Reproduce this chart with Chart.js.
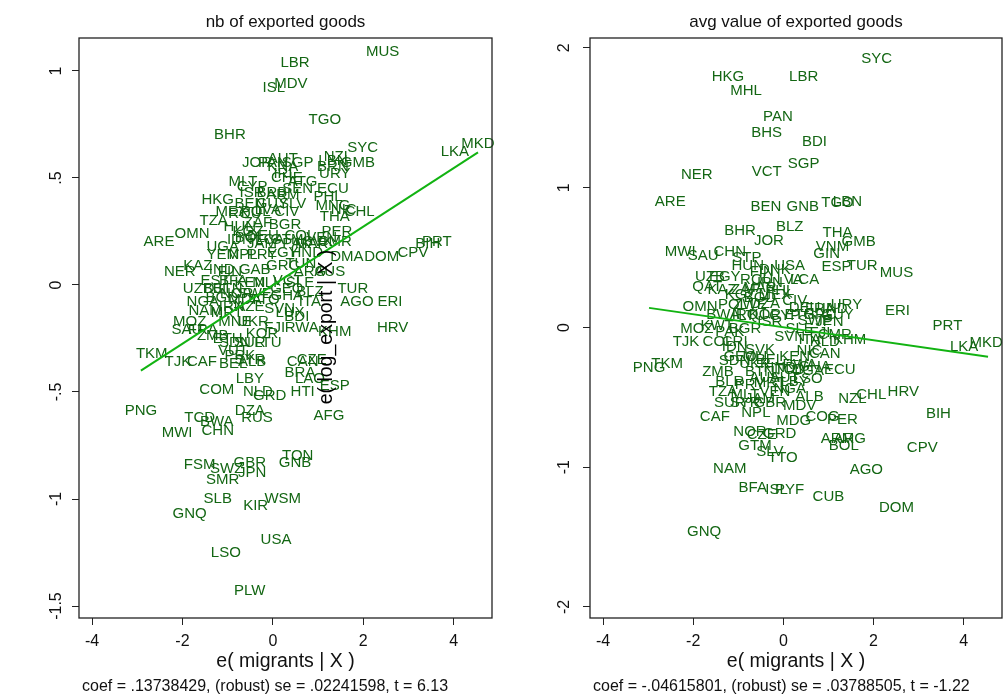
<!DOCTYPE html>
<html lang="en">
<head>
<meta charset="UTF-8">
<title>Added-variable plots: migrants</title>
<style>
  * { margin: 0; padding: 0; }
  body { background: #fff; width: 1004px; height: 697px; position: relative; overflow: hidden; }
  canvas { position: absolute; top: 0; }
  #leftChart { left: 0; }
  #rightChart { left: 502px; }
</style>
<script src="https://cdn.jsdelivr.net/npm/chart.js"></script>
</head>
<body>
<canvas id="leftChart" width="502" height="697"></canvas>
<canvas id="rightChart" width="502" height="697"></canvas>
<script>
// x axis is the same for both panels
const xTicks = [-4, -2, 0, 2, 4];
const xRange = [-4.29, 4.85];

// left panel: nb of exported goods  [country, e(migrants|X), e(y|X)]
const leftPoints = [
  ['MUS',2.43,1.09],['LBR',0.49,1.04],['MDV',0.40,0.94],['ISL',0.02,0.92],['TGO',1.15,0.77],
  ['BHR',-0.95,0.70],['SYC',1.99,0.64],['MKD',4.54,0.66],['LKA',4.03,0.62],['JOR',-0.35,0.57],
  ['PAN',0.00,0.57],['AUT',0.22,0.59],['SGP',0.55,0.57],['LBN',1.33,0.58],['NZL',1.44,0.60],
  ['GMB',1.88,0.57],['BRN',1.33,0.55],['URY',1.37,0.52],['KNA',0.22,0.55],['IRL',0.27,0.52],
  ['CHE',0.31,0.50],['MLT',-0.66,0.48],['CYP',-0.46,0.46],['ATG',0.66,0.48],['SEN',0.55,0.45],
  ['ECU',1.33,0.45],['ISR',-0.46,0.43],['BRB',-0.02,0.43],['ARM',0.22,0.42],['PHL',1.22,0.41],
  ['HKG',-1.22,0.40],['BEN',-0.51,0.38],['GUY',-0.02,0.38],['SLV',0.44,0.38],['MNG',1.33,0.37],
  ['NIC',1.57,0.35],['CHL',1.92,0.34],['THA',1.37,0.32],['MEX',-0.91,0.34],['ROU',-0.62,0.33],
  ['POL',-0.38,0.34],['LVA',-0.11,0.35],['CIV',0.31,0.34],['TZA',-1.31,0.30],['ZAF',-0.33,0.29],
  ['BGR',0.27,0.28],['KGZ',-0.55,0.25],['BOL',-0.51,0.22],['LCA',-0.07,0.21],['GTM',0.31,0.21],
  ['COL',0.60,0.23],['CMR',1.37,0.20],['SVK',1.00,0.20],['PAK',0.53,0.19],['PER',1.42,0.25],
  ['OMN',-1.79,0.24],['ARE',-2.52,0.20],['DMA',1.64,0.13],['DOM',2.41,0.13],['CPV',3.10,0.15],
  ['BIH',3.43,0.19],['PRT',3.63,0.20],['UGA',-1.11,0.18],['YEM',-1.11,0.14],['NPL',-0.66,0.14],
  ['PRY',-0.24,0.14],['EGY',0.22,0.15],['HND',0.75,0.15],['NER',-2.06,0.06],['KAZ',-1.66,0.09],
  ['IND',-1.13,0.07],['GAB',-0.40,0.07],['GRC',0.22,0.09],['TUN',0.62,0.10],['AUS',1.26,0.06],
  ['ARG',0.82,0.06],['BFA',-0.88,0.02],['KEN',-0.51,0.01],['MLI',-0.18,0.01],['VCT',0.33,0.02],
  ['SLE',0.60,0.01],['UZB',-1.66,-0.02],['DJI',-1.28,-0.02],['BTN',-1.00,-0.02],['NOR',-0.80,-0.04],
  ['SWE',-0.40,-0.04],['GEO',0.31,-0.02],['GHA',0.31,-0.05],['BLZ',0.82,-0.03],['TUR',1.77,-0.02],
  ['AGO',1.86,-0.08],['ERI',2.59,-0.08],['HRV',2.65,-0.20],['NGA',-1.55,-0.08],['NAM',-1.50,-0.12],
  ['IRN',-0.91,-0.10],['AZE',-0.51,-0.10],['SVN',0.15,-0.11],['ITA',0.82,-0.08],['LUX',0.38,-0.13],
  ['MOZ',-1.84,-0.17],['MNE',-0.84,-0.17],['UKR',-0.44,-0.17],['FJI',0.04,-0.20],['BDI',0.53,-0.15],
  ['RWA',0.64,-0.20],['KHM',1.37,-0.22],['SAU',-1.90,-0.21],['FRA',-1.55,-0.21],['ZMB',-1.33,-0.24],
  ['ETH',-1.00,-0.25],['KOR',-0.24,-0.23],['SDN',-0.84,-0.27],['SUR',-0.51,-0.27],['LTU',-0.11,-0.27],
  ['TKM',-2.68,-0.32],['VUT',-0.88,-0.31],['SYR',-0.51,-0.35],['TJK',-2.10,-0.36],['CAF',-1.57,-0.36],
  ['BEL',-0.88,-0.37],['ALB',-0.46,-0.36],['CAN',0.66,-0.36],['CZE',0.86,-0.35],['BRA',0.60,-0.41],
  ['LBY',-0.51,-0.44],['LAO',0.82,-0.44],['ESP',1.37,-0.47],['COM',-1.24,-0.49],['NLD',-0.33,-0.50],
  ['HTI',0.66,-0.50],['GRD',-0.07,-0.52],['PNG',-2.92,-0.59],['TCD',-1.62,-0.62],['BWA',-1.24,-0.64],
  ['MWI',-2.12,-0.69],['CHN',-1.22,-0.68],['DZA',-0.51,-0.59],['RUS',-0.35,-0.62],['AFG',1.24,-0.61],
  ['FSM',-1.62,-0.84],['GBR',-0.51,-0.83],['TON',0.55,-0.80],['GNB',0.49,-0.83],['SWZ',-1.02,-0.86],
  ['JPN',-0.46,-0.88],['SMR',-1.11,-0.91],['SLB',-1.22,-1.00],['WSM',0.22,-1.00],['KIR',-0.38,-1.03],
  ['GNQ',-1.84,-1.07],['USA',0.07,-1.19],['LSO',-1.04,-1.25],['PLW',-0.51,-1.43],['HUN',-0.73,0.27],
  ['DEU',-0.22,0.23],['IDN',-0.73,0.21],['JAM',-0.24,0.19],['MAR',0.86,0.19],['VEN',1.08,0.22],
  ['BGD',-1.13,-0.06],['MDA',-0.62,-0.07],['MRT',-1.02,-0.13],['TTO',-0.18,-0.07],['EST',-1.28,0.02],
  ['FIN',-0.95,0.06],['PRK',-0.73,-0.33]
];
const leftFitX = [-2.92, 4.54];
const leftFitY = [-0.40, 0.62];
const leftYTicks = [-1.5, -1, -0.5, 0, 0.5, 1];
const leftYTickLabels = ['-1.5', '-1', '-.5', '0', '.5', '1'];
const leftYRange = [-1.556, 1.154];

// right panel: avg value of exported goods
const rightPoints = [
  ['SYC',2.07,1.92],['HKG',-1.23,1.79],['LBR',0.45,1.79],['MHL',-0.83,1.69],['PAN',-0.12,1.51],
  ['BHS',-0.37,1.39],['BDI',0.69,1.33],['SGP',0.45,1.17],['VCT',-0.37,1.11],['NER',-1.92,1.09],
  ['ARE',-2.51,0.90],['BEN',-0.39,0.86],['GNB',0.43,0.86],['TGO',1.20,0.89],['LBN',1.42,0.90],
  ['BLZ',0.14,0.72],['BHR',-0.96,0.69],['JOR',-0.32,0.62],['THA',1.20,0.68],['GMB',1.67,0.61],
  ['VNM',1.09,0.58],['GIN',0.96,0.53],['MWI',-2.29,0.54],['SAU',-1.78,0.51],['CHN',-1.19,0.54],
  ['STP',-0.81,0.50],['ESP',1.18,0.43],['TUR',1.75,0.44],['MUS',2.51,0.39],['UZB',-1.63,0.36],
  ['QAT',-1.69,0.29],['HUN',-0.79,0.44],['USA',0.14,0.44],['DNK',-0.19,0.41],['FIN',-0.48,0.40],
  ['EGY',-1.30,0.36],['ROU',-0.59,0.34],['LCA',0.47,0.34],['IRN',-0.30,0.32],['LVA',0.14,0.34],
  ['KAZ',-1.36,0.27],['ZAF',-0.85,0.27],['MAR',-0.52,0.28],['PHL',-0.08,0.26],['KGZ',-0.96,0.23],
  ['BGD',-0.52,0.21],['MEX',-0.19,0.23],['OMN',-1.85,0.15],['POL',-1.12,0.16],['ZWE',-0.74,0.16],
  ['DZA',-0.41,0.17],['CIV',0.25,0.19],['URY',1.40,0.16],['DEU',0.47,0.14],['FRA',0.81,0.13],
  ['IND',1.14,0.13],['ERI',2.53,0.12],['PRT',3.64,0.01],['LKA',4.01,-0.14],['MKD',4.50,-0.11],
  ['BWA',-1.34,0.09],['IRQ',-0.85,0.09],['KOR',-0.41,0.09],['CYP',0.03,0.08],['ETH',0.36,0.09],
  ['GRC',0.81,0.09],['GUY',1.20,0.09],['LTU',-0.70,0.08],['MOZ',-1.92,-0.01],['KWT',-1.47,0.01],
  ['PAK',-1.19,-0.03],['BGR',-0.85,-0.01],['SLE',0.36,-0.01],['FJI',0.81,-0.04],['CMR',1.14,-0.05],
  ['KHM',1.47,-0.09],['TJK',-2.16,-0.10],['COL',-1.45,-0.10],['CRI',-1.08,-0.10],['SVN',0.14,-0.07],
  ['ITA',0.58,-0.09],['NLD',0.92,-0.10],['IDN',-1.08,-0.14],['SVK',-0.52,-0.16],['KEN',0.25,-0.21],
  ['NIC',0.58,-0.17],['CAN',0.92,-0.19],['GEO',-0.96,-0.21],['MLI',-0.63,-0.21],['BEL',-0.30,-0.23],
  ['SDN',-1.08,-0.24],['UKR',-0.63,-0.26],['HND',-0.08,-0.29],['RWA',0.36,-0.27],['GHA',0.69,-0.28],
  ['ECU',1.25,-0.30],['PNG',-2.98,-0.29],['TKM',-2.58,-0.26],['ZMB',-1.45,-0.32],['BTN',-0.52,-0.32],
  ['BLR',-1.19,-0.39],['PRY',-0.74,-0.41],['MRT',-0.30,-0.40],['LBY',0.25,-0.39],['LSO',0.54,-0.37],
  ['TZA',-1.34,-0.46],['MLT',-0.85,-0.48],['VEN',-0.19,-0.46],['NGA',0.14,-0.44],['JAM',-0.52,-0.51],
  ['ALB',0.58,-0.50],['SUR',-1.19,-0.54],['SYR',-0.85,-0.54],['GBR',-0.30,-0.54],['NZL',1.53,-0.51],
  ['CHL',1.95,-0.48],['HRV',2.66,-0.46],['MDV',0.36,-0.56],['CAF',-1.52,-0.64],['NPL',-0.61,-0.61],
  ['BIH',3.44,-0.62],['MDG',0.23,-0.67],['COG',0.87,-0.64],['PER',1.31,-0.66],['NOR',-0.74,-0.75],
  ['CZE',-0.48,-0.77],['GRD',-0.08,-0.76],['GTM',-0.63,-0.85],['SLV',-0.30,-0.89],['TTO',-0.01,-0.93],
  ['ARM',1.20,-0.80],['ARG',1.47,-0.80],['BOL',1.34,-0.85],['CPV',3.08,-0.86],['NAM',-1.19,-1.01],
  ['AGO',1.84,-1.02],['BFA',-0.68,-1.15],['ISL',-0.15,-1.16],['PYF',0.14,-1.16],['CUB',1.00,-1.21],
  ['DOM',2.51,-1.29],['GNQ',-1.76,-1.46],['AUS',-0.41,-0.36],['AUT',0.03,-0.36],['TCD',0.14,-0.30],
  ['UGA',0.54,-0.31],['ISR',-0.30,0.04],['JPN',1.02,0.04],['SWE',0.70,0.05]
];
const rightFitX = [-2.98, 4.54];
const rightFitY = [0.14, -0.21];
const rightYTicks = [-2, -1, 0, 1, 2];
const rightYTickLabels = ['-2', '-1', '0', '1', '2'];
const rightYRange = [-2.079, 2.071];

const FONT = 'Arial, "Liberation Sans", sans-serif';

// stata-ish decorations: country codes as markers, frame, titles, rotated y labels
const stataPlugin = {
  id: 'stata',
  beforeDatasetsDraw(chart, args, opts) {
    const ctx = chart.ctx;
    const meta = chart.getDatasetMeta(0);
    ctx.save();
    ctx.font = '15px ' + FONT;
    ctx.fillStyle = '#136613';
    ctx.textAlign = 'center';
    ctx.textBaseline = 'middle';
    meta.data.forEach((pt, i) => ctx.fillText(opts.codes[i], pt.x, pt.y));
    ctx.restore();
  },
  afterDraw(chart, args, opts) {
    const ctx = chart.ctx;
    const a = chart.chartArea;
    const cx = (a.left + a.right) / 2;
    ctx.save();
    ctx.strokeStyle = '#222';
    ctx.lineWidth = 1.3;
    ctx.strokeRect(a.left, a.top, a.right - a.left, a.bottom - a.top);

    ctx.fillStyle = '#111';
    ctx.textAlign = 'center';
    ctx.textBaseline = 'middle';
    ctx.font = '17px ' + FONT;
    ctx.fillText(opts.title, cx, 22);
    ctx.font = '19.5px ' + FONT;
    ctx.fillText('e( migrants | X )', cx, 662);

    ctx.font = '16px ' + FONT;
    ctx.textAlign = 'left';
    ctx.fillText(opts.note, a.left + 3, 687);

    // y tick labels, rotated like stata
    ctx.font = '16px ' + FONT;
    ctx.textAlign = 'center';
    const ys = chart.scales.y;
    opts.yTicks.forEach((v, i) => {
      ctx.save();
      ctx.translate(a.left - opts.yLabelGap, ys.getPixelForValue(v));
      ctx.rotate(-Math.PI / 2);
      ctx.fillText(opts.yTickLabels[i], 0, 0);
      ctx.restore();
    });

    if (opts.strayTitle) {
      ctx.save();
      ctx.font = '19.5px ' + FONT;
      ctx.fillStyle = '#000';
      ctx.translate(opts.strayTitle.x, opts.strayTitle.y);
      ctx.rotate(-Math.PI / 2);
      ctx.fillText(opts.strayTitle.text, 0, 0);
      ctx.restore();
    }
    ctx.restore();
  }
};

function buildPanel(id, p) {
  const axisGrid = { drawOnChartArea: false, drawTicks: true, tickLength: 7, color: '#222', lineWidth: 1 };
  return new Chart(document.getElementById(id), {
    type: 'scatter',
    data: {
      datasets: [
        { data: p.points.map(r => ({ x: r[1], y: r[2] })), pointRadius: 0, pointHoverRadius: 0 },
        { data: p.fitX.map((v, i) => ({ x: v, y: p.fitY[i] })), showLine: true,
          borderColor: '#12b312', borderWidth: 2, pointRadius: 0 }
      ]
    },
    options: {
      responsive: false,
      animation: false,
      events: [],
      layout: { padding: { top: 38, right: p.padRight, bottom: 0, left: 0 } },
      plugins: {
        legend: { display: false },
        tooltip: { enabled: false },
        stata: {
          codes: p.points.map(r => r[0]),
          title: p.title, note: p.note,
          yTicks: p.yTicks, yTickLabels: p.yTickLabels, yLabelGap: p.yLabelGap,
          strayTitle: p.strayTitle
        }
      },
      scales: {
        x: {
          type: 'linear', min: xRange[0], max: xRange[1],
          afterBuildTicks: s => { s.ticks = xTicks.map(v => ({ value: v })); },
          afterFit: s => { s.height = 79; },
          grid: axisGrid,
          border: { display: false },
          ticks: { font: { size: 16, family: FONT }, color: '#111', padding: 7, maxRotation: 0 }
        },
        y: {
          type: 'linear', min: p.yRange[0], max: p.yRange[1],
          afterBuildTicks: s => { s.ticks = p.yTicks.map(v => ({ value: v })); },
          afterFit: s => { s.width = p.yAxisWidth; },
          grid: axisGrid,
          border: { display: false },
          ticks: { display: false }
        }
      }
    },
    plugins: [stataPlugin]
  });
}

buildPanel('leftChart', {
  points: leftPoints, fitX: leftFitX, fitY: leftFitY,
  yTicks: leftYTicks, yTickLabels: leftYTickLabels, yRange: leftYRange,
  yAxisWidth: 79, padRight: 10, yLabelGap: 22,
  title: 'nb of exported goods',
  note: 'coef = .13738429, (robust) se = .02241598, t = 6.13',
  strayTitle: { text: 'e( log_export | X )', x: 327, y: 327 }
});

buildPanel('rightChart', {
  points: rightPoints, fitX: rightFitX, fitY: rightFitY,
  yTicks: rightYTicks, yTickLabels: rightYTickLabels, yRange: rightYRange,
  yAxisWidth: 88, padRight: 2, yLabelGap: 25,
  title: 'avg value of exported goods',
  note: 'coef = -.04615801, (robust) se = .03788505, t = -1.22'
});
</script>
</body>
</html>
